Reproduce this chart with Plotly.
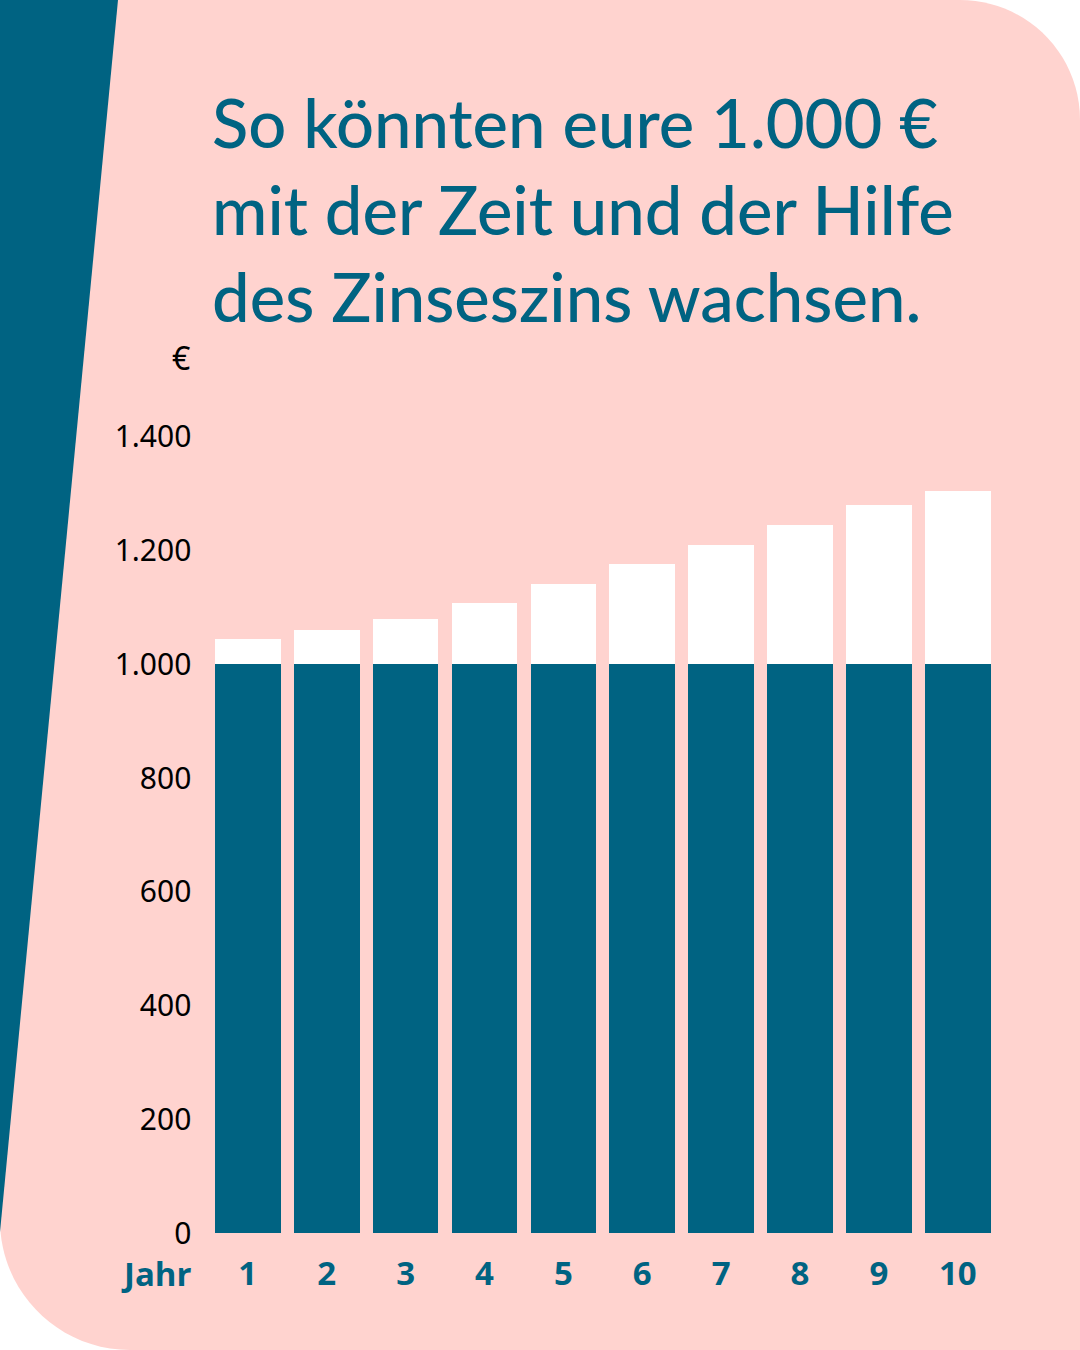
import plotly.graph_objects as go

W, H = 1080, 1350
TEAL = "#006382"
PINK = "#FFD3CF"

years = ["1", "2", "3", "4", "5", "6", "7", "8", "9", "10"]
totals = [1044, 1061, 1079, 1107, 1142, 1177, 1210, 1245, 1280, 1305]
principal = [1000] * 10
interest = [t - p for t, p in zip(totals, principal)]
y_ticks = [0, 200, 400, 600, 800, 1000, 1200, 1400]
y_labels = ["0", "200", "400", "600", "800", "1.000", "1.200", "1.400"]
title_lines = ["So könnten eure 1.000 €", "mit der Zeit und der Hilfe", "des Zinseszins wachsen."]


def px(x):
    return x / W


def py(y):
    return 1 - y / H


k = 0.5523
def pink_path():
    r1 = 120  # top-right
    r2 = 130  # bottom-left
    pts = []
    pts.append(f"M {px(0)},{py(0)}")
    pts.append(f"L {px(W - r1)},{py(0)}")
    pts.append(
        f"C {px(W - r1 + k * r1)},{py(0)} {px(W)},{py(r1 - k * r1)} {px(W)},{py(r1)}"
    )
    pts.append(f"L {px(W)},{py(H)}")
    pts.append(f"L {px(r2)},{py(H)}")
    pts.append(
        f"C {px(r2 - k * r2)},{py(H)} {px(0)},{py(H - r2 + k * r2)} {px(0)},{py(H - r2)}"
    )
    pts.append("Z")
    return " ".join(pts)


teal_path = f"M {px(0)},{py(0)} L {px(118)},{py(0)} L {px(0)},{py(1232)} Z"

fig = go.Figure()
fig.add_trace(go.Bar(x=years, y=principal, marker=dict(color=TEAL, line=dict(width=0)),
                     hoverinfo="skip", showlegend=False))
fig.add_trace(go.Bar(x=years, y=interest, marker=dict(color="#FFFFFF", line=dict(width=0)),
                     hoverinfo="skip", showlegend=False))

TITLE_SIZE = 67
annotations = []
for i, line in enumerate(title_lines):
    annotations.append(dict(
        text=line, x=px(210), y=py(164 + 87 * i), xref="paper", yref="paper",
        xanchor="left", yanchor="bottom", align="left", showarrow=False,
        font=dict(family="Lato", size=TITLE_SIZE, color=TEAL, weight=500)))
annotations += [
    dict(text="€", x=px(192), y=py(357), xref="paper", yref="paper",
         xanchor="right", yanchor="middle", showarrow=False,
         font=dict(family="Noto Sans", size=32, color="#000000")),
    dict(text="Jahr", x=px(194), y=py(1273), xref="paper", yref="paper",
         xanchor="right", yanchor="middle", showarrow=False,
         font=dict(family="Open Sans", size=33, color=TEAL, weight="bold")),
]

fig.update_layout(
    template="none",
    width=W, height=H,
    autosize=False,
    margin=dict(l=0, r=0, t=0, b=0, pad=0, autoexpand=False),
    paper_bgcolor="#FFFFFF",
    plot_bgcolor="rgba(0,0,0,0)",
    barmode="stack",
    bargap=0.167,
    showlegend=False,
    shapes=[
        dict(type="path", path=pink_path(), xref="paper", yref="paper",
             fillcolor=PINK, line=dict(width=0), layer="below"),
        dict(type="path", path=teal_path, xref="paper", yref="paper",
             fillcolor=TEAL, line=dict(width=0), layer="below"),
    ],
    xaxis=dict(
        type="category",
        domain=[208.35 / W, 997.25 / W],
        range=[-0.5, 9.5],
        automargin=False,
        showgrid=False, zeroline=False, showline=False,
        ticks="outside", ticklen=11, tickcolor="rgba(0,0,0,0)",
        tickfont=dict(family="Open Sans", size=33, color=TEAL, weight="bold"),
    ),
    yaxis=dict(
        domain=[py(1233.3), py(436.7)],
        range=[0, 1400],
        automargin=False,
        tickvals=y_ticks, ticktext=y_labels,
        showgrid=False, zeroline=False, showline=False,
        ticks="outside", ticklen=10, tickcolor="rgba(0,0,0,0)",
        tickfont=dict(family="Noto Sans", size=30, color="#000000"),
    ),
    annotations=annotations,
)

post = (
    "var s=document.createElement('style');"
    "s.textContent='html,body{margin:0!important;padding:0!important;overflow:hidden!important;background:#ffffff;}"
    " #{plot_id}{position:fixed!important;left:0!important;top:0!important;width:1080px!important;height:1350px!important;}';"
    "document.head.appendChild(s);"
    "var d=document.getElementById('{plot_id}');"
    "Plotly.relayout(d,{width:1080,height:1350,autosize:false});"
)
fig.write_html("out.html", post_script=post,
               config={"responsive": False, "displayModeBar": False, "staticPlot": True})
